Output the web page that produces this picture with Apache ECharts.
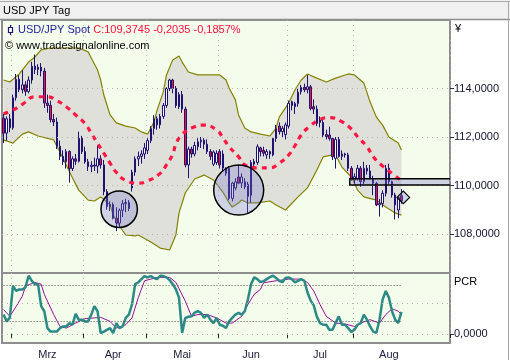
<!DOCTYPE html>
<html><head><meta charset="utf-8">
<script src="https://cdn.jsdelivr.net/npm/echarts@6/dist/echarts.min.js"></script>
<style>html,body{margin:0;padding:0;background:#fff}#c{width:510px;height:360px}</style>
</head><body><div id="c"></div>
<script>
const FONT = "'Liberation Sans', Arial, sans-serif";

// ---------- categories (trading days) ----------
function weekdays(start, count) {
  const out = []; const d = new Date(start + 'T00:00:00Z');
  while (out.length < count) {
    const wd = d.getUTCDay();
    if (wd !== 0 && wd !== 6) out.push(d.toISOString().slice(0, 10));
    d.setUTCDate(d.getUTCDate() + 1);
  }
  return out;
}
const dates = weekdays('2017-02-24', 143);
const monthNames = {'03': 'Mrz', '04': 'Apr', '05': 'Mai', '06': 'Jun', '07': 'Jul', '08': 'Aug'};
const priceTicks = [108, 110, 112, 114];
const pcrTicks = [0];
const pcrLevels = [20, 80];
const pcrGrid = [0, 50];

// ---------- USD/JPY daily candles [open, high, low, close] ----------
const candles = [
[112.78,112.95,111.75,112.16],[112.16,112.85,111.85,112.75],[112.75,112.95,112.20,112.38],[112.38,113.75,112.30,113.62],
[113.62,114.60,113.50,114.38],[114.38,114.55,113.85,113.95],[113.95,114.75,113.80,114.15],[114.15,114.30,113.70,113.88],
[113.88,114.50,113.80,114.35],[114.35,115.10,114.20,114.92],[114.92,115.40,114.60,114.78],[114.78,115.00,114.55,114.88],
[114.88,115.05,114.50,114.72],[114.72,114.85,113.20,113.40],[113.40,113.75,113.00,113.30],[113.30,113.50,112.60,112.72],
[112.72,112.95,112.45,112.62],[112.62,112.80,111.50,111.62],[111.62,111.85,111.05,111.20],[111.20,111.45,110.85,110.98],
[110.98,111.50,110.70,111.40],[111.40,111.45,110.12,110.70],[110.70,111.20,110.60,111.10],[111.10,111.30,110.85,111.00],
[111.00,112.22,110.95,111.95],[111.95,112.05,111.30,111.40],[111.40,111.60,110.90,110.98],[110.98,111.10,110.60,110.78],
[110.78,111.00,110.55,110.84],[110.84,111.15,110.60,110.80],[110.80,111.67,110.50,111.10],[111.10,111.25,110.70,110.85],
[110.85,111.05,109.60,109.75],[109.75,109.85,109.00,109.13],[109.13,109.35,108.95,109.22],[109.22,109.30,108.60,108.65],
[108.65,109.10,108.12,108.45],[108.45,109.05,108.30,108.98],[108.98,109.40,108.70,109.25],[109.25,109.45,108.90,109.30],
[109.30,109.40,108.95,109.05],[109.90,110.65,109.75,110.55],[110.55,111.20,110.40,111.10],[111.10,111.40,110.80,111.20],
[111.20,111.45,110.90,111.30],[111.30,111.75,111.10,111.55],[111.45,111.95,111.30,111.85],[111.85,112.45,111.75,112.35],
[112.35,112.90,112.10,112.75],[112.75,112.85,112.30,112.50],[112.50,112.95,112.35,112.85],[112.85,113.40,112.75,113.30],
[113.30,114.05,113.20,114.00],[114.00,114.40,113.90,114.35],[114.35,114.40,113.80,114.00],[114.00,114.10,113.20,113.30],
[113.25,113.85,113.15,113.75],[113.75,113.90,113.00,113.15],[113.15,113.25,110.75,110.85],[110.85,111.60,110.30,111.50],
[111.50,111.60,111.15,111.30],[111.30,111.80,111.20,111.65],[111.60,111.95,111.45,111.80],[111.80,112.00,111.55,111.87],
[111.87,111.95,111.50,111.70],[111.70,111.90,111.30,111.40],[111.40,111.50,111.05,111.20],[110.88,111.45,110.80,111.38],
[110.95,111.45,110.85,111.33],[111.40,111.50,110.70,110.85],[111.30,111.45,110.60,110.72],[110.50,110.75,110.40,110.70],
[110.70,110.80,109.40,109.47],[109.47,110.15,109.35,110.10],[109.90,110.30,109.80,110.15],[110.35,110.85,110.05,110.10],
[110.10,110.50,109.90,110.35],[110.15,110.30,109.85,109.95],[110.05,110.15,108.85,109.55],[109.60,111.05,109.30,110.95],
[110.88,111.10,110.70,111.00],[110.95,111.70,110.85,111.60],[111.55,111.60,111.20,111.40],[111.45,111.60,111.20,111.33],
[111.26,111.50,111.10,111.40],[111.30,111.45,111.10,111.40],[111.26,112.00,111.20,111.94],[111.94,112.50,111.80,112.36],
[112.45,112.60,112.10,112.22],[112.22,112.45,112.00,112.36],[112.10,112.60,111.90,112.50],[112.45,113.50,112.35,113.39],
[113.45,113.50,113.10,113.30],[113.25,113.45,112.95,113.38],[113.38,114.00,113.25,113.85],[113.87,114.15,113.75,114.05],
[114.05,114.20,113.85,113.95],[113.95,114.55,113.80,114.07],[114.07,114.15,113.10,113.18],[113.25,113.55,112.95,113.15],
[113.15,113.30,112.45,112.56],[112.70,112.85,112.40,112.60],[112.60,112.70,112.00,112.08],[112.10,112.30,111.90,112.02],
[112.08,112.43,111.85,111.94],[111.94,112.00,111.05,111.19],[111.12,112.00,110.70,111.90],[111.90,112.00,111.15,111.20],
[111.20,111.45,111.05,111.30],[111.30,111.35,111.15,111.26],[111.26,111.35,110.60,110.71],[110.71,110.80,110.20,110.29],
[110.23,110.50,110.05,110.36],[110.29,110.85,110.20,110.71],[110.71,110.80,109.95,110.16],[110.16,110.98,110.05,110.71],
[110.71,110.85,110.45,110.60],[110.60,110.85,110.25,110.29],[110.29,110.40,109.60,110.09],[110.09,110.15,109.15,109.20],
[109.20,109.45,108.72,109.26],[109.26,109.80,109.10,109.68],[109.68,110.85,109.55,110.71],[110.71,110.90,110.05,110.16],
[110.16,110.20,109.50,109.61],[109.61,109.70,108.60,109.20],[108.99,109.55,108.65,109.50],[109.58,109.85,109.25,109.37]
];

// ---------- Bollinger bands [barIndex, value] ----------
const upperBand = [[0,114.35],[2,114.27],[5,114.60],[8,115.09],[10,115.30],[12,115.59],[15,115.67],[19,115.67],[24,115.67],
[27,115.51],[28,115.26],[30,114.76],[31,114.35],[32,113.73],[33,113.32],[34,112.91],[36,112.58],[39,112.45],[42,112.37],
[44,112.21],[46,112.12],[48,112.62],[49,113.11],[51,113.86],[52,114.56],[54,115.18],[56,115.34],[57,115.09],[59,114.68],
[62,114.56],[66,114.56],[69,114.56],[71,114.35],[72,114.02],[74,113.53],[75,112.91],[77,112.37],[79,112.21],[82,112.12],
[85,112.04],[87,112.37],[88,112.82],[91,113.40],[93,113.94],[95,114.35],[97,114.60],[100,114.43],[103,114.27],[106,114.43],
[110,114.60],[112,114.56],[115,114.23],[117,113.44],[119,112.82],[121,112.49],[123,112.00],[126,111.75],[127,111.46]];
const lowerBand = [[0,111.88],[3,111.75],[6,112.12],[8,112.21],[11,112.04],[16,111.88],[18,111.38],[20,110.85],[22,110.31],
[24,109.81],[27,109.40],[29,109.36],[31,109.53],[34,109.20],[35,108.78],[37,108.33],[39,107.96],[42,107.92],[43,107.96],
[47,107.67],[50,107.42],[53,107.34],[55,107.96],[56,108.87],[58,109.69],[61,110.27],[64,110.43],[67,110.23],[70,109.73],
[72,109.28],[73,109.11],[75,109.28],[76,109.40],[78,109.28],[81,109.28],[85,109.36],[87,109.20],[90,108.99],[94,109.53],
[97,109.90],[100,110.64],[102,111.18],[105,111.26],[106,111.26],[108,110.76],[111,110.35],[113,109.81],[115,109.53],
[119,109.40],[122,109.11],[125,108.87],[127,108.78]];
// ---------- red cycle line [barIndex, value] ----------
const cycleLine = [[0,112.96],[3,113.11],[6,113.35],[10,113.66],[14,113.66],[17,113.50],[20,113.25],[23,112.91],[26,112.55],
[28,112.15],[30,111.74],[32,111.33],[34,110.92],[36,110.54],[39,110.21],[43,110.10],[46,110.19],[50,110.50],[52,110.85],
[54,111.29],[55,111.70],[57,112.11],[61,112.42],[64,112.49],[68,112.29],[70,111.97],[72,111.60],[75,111.19],[77,110.85],
[81,110.73],[85,110.73],[88,110.92],[91,111.26],[93,111.64],[95,112.08],[98,112.47],[101,112.72],[104,112.80],[108,112.63],
[111,112.33],[113,112.01],[116,111.60],[118,111.19],[121,110.80],[124,110.50],[127,110.20]];

// ---------- PCR indicator ----------
const pcr = [31.7,20.5,26.7,78.8,70.5,73,73,76.7,95.5,87.2,81.7,81.7,45.5,37.2,9.5,3.8,3.8,3.8,9.5,12.2,
12.2,17.8,15,32.8,23.3,23.3,20.5,20.5,31.7,45.5,37.2,1.2,3.8,6.7,9.5,1.2,17.8,9.5,12.2,26.2,
31.7,48.3,81.7,84.5,90,95,92.8,95,91.7,90,95.5,95,92.8,88.3,81.7,73.3,59.5,1.5,26,28.3,
28.8,35,37.2,34.5,26.2,31.7,23.3,17.8,26.2,15,13.3,9.5,20.5,26.2,31.7,34.5,31.7,37.2,56.7,81.7,
92.8,90,85,86.7,90,93.3,95.5,91.7,87.2,85,91.7,92.8,90,84.5,87.2,90,87.2,68.3,55,46.7,
28.3,17.8,15,15,6.7,6.7,17.8,28.8,15,15,9.5,3.3,6.7,15,17.8,31.7,23.3,12.2,3.8,1.7,
23.3,56.7,70.5,59.5,37.2,23.3,17.8,36];
const pcrAvg = [[0,40],[2,28.8],[4,45],[6,62],[7,78.8],[10,84.5],[12,81.7],[13,65],[16,31.7],[18,12.2],[20,9.5],[23,17.8],
[26,25],[29,26.2],[31,27.2],[34,20.5],[36,9.5],[39,15],[41,26.2],[43,59.5],[45,87.2],[49,92.8],[53,92.8],[55,84.5],[58,53.8],
[60,28.8],[62,31.7],[65,31.7],[68,26.2],[71,17.8],[73,17.8],[76,28.8],[78,48.3],[80,65],[82,73],[83,84],[87,87.2],[91,90],
[95,90],[97,84.5],[99,70.5],[101,48.3],[103,28.8],[106,17.8],[109,16.2],[112,12.2],[114,17.8],[117,23.3],[120,17.8],
[122,31.7],[124,41.2],[126,37.2],[127,31.7]];

// ---------- annotations (data coordinates) ----------
const circleMarks = [[36.9, 109.02], [75.05, 109.81]];
const zoneMark = {start: 110.5, low: 110.02, high: 110.28};
const lastMark = [127.6, 109.51];
const circleRadiusPx = [18.2, 25];

// ---------- helpers ----------
const groups = {};
dates.forEach((d, i) => { const m = d.slice(5, 7); (groups[m] = groups[m] || []).push(i); });
const monthStart = new Set(); const monthMid = new Map();
Object.keys(monthNames).forEach(m => {
  const g = groups[m]; if (!g) return;
  monthStart.add(g[0]);
  monthMid.set(Math.floor((g[0] + g[g.length - 1]) / 2), monthNames[m]);
});
const isMonthStart = (i) => monthStart.has(i);
const isMonthMid = (i) => monthMid.has(i);
function coordFrac(api, i, v) {
  const b = Math.floor(i); const p = api.coord([b, v]); const bw = api.size([1, 0])[0];
  return [p[0] + (i - b) * bw, p[1]];
}
const fmt4 = v => v.toFixed(4).replace('.', ',');
const MARK_FILL = 'rgba(118,118,205,0.30)';
const GRIDDOT = {type: [1, 4], color: '#b4b4b4', width: 1};

const chart = echarts.init(document.getElementById('c'), null, {renderer: 'canvas'});
chart.setOption({
  animation: false,
  backgroundColor: '#ffffff',
  textStyle: {fontFamily: FONT},
  grid: [
    {left: 2, right: 60, top: 20, height: 253, show: true, backgroundColor: '#f4fcec', borderColor: '#8e8e8e', borderWidth: 2},
    {left: 2, right: 60, top: 273, height: 70, show: true, backgroundColor: '#f4fcec', borderColor: '#8e8e8e', borderWidth: 2}
  ],
  xAxis: [
    {type: 'category', gridIndex: 0, data: dates, boundaryGap: true, axisLine: {show: false}, axisTick: {show: false},
     axisLabel: {show: false}, splitLine: {show: true, interval: isMonthStart, lineStyle: GRIDDOT}},
    {type: 'category', gridIndex: 1, data: dates, boundaryGap: true, axisLine: {show: false},
     axisTick: {show: true, interval: isMonthStart, length: 4, lineStyle: {color: '#202020'}},
     axisLabel: {interval: isMonthMid, formatter: (v, i) => monthMid.get(i) || '', color: '#1c1c3c', fontSize: 11, margin: 6, fontFamily: FONT},
     splitLine: {show: true, interval: isMonthStart, lineStyle: GRIDDOT}}
  ],
  yAxis: [
    {type: 'value', gridIndex: 0, position: 'right', min: 106.392, max: 116.825, scale: true,
     axisLine: {show: false}, axisTick: {show: true, customValues: priceTicks, length: 4, lineStyle: {color: '#303050'}},
     axisLabel: {customValues: priceTicks, formatter: fmt4, color: '#141432', fontSize: 11, margin: 4, fontFamily: FONT},
     splitLine: {show: false}},
    {type: 'value', gridIndex: 1, position: 'right', min: -15, max: 100,
     axisLine: {show: false}, axisTick: {show: true, customValues: pcrTicks, length: 4, lineStyle: {color: '#303050'}},
     axisLabel: {customValues: pcrTicks, formatter: fmt4, color: '#141432', fontSize: 11, margin: 4, fontFamily: FONT},
     splitLine: {show: false}}
  ],
  series: [
    {type: 'custom', xAxisIndex: 0, yAxisIndex: 0, silent: true, z: 1, clip: true, data: [[0, 110]],
     renderItem: (params, api) => {
       const pts = upperBand.map(p => api.coord(p));
       for (let k = lowerBand.length - 1; k >= 0; k--) pts.push(api.coord(lowerBand[k]));
       return {type: 'polygon', shape: {points: pts}, style: {fill: '#dfe0da'}};
     }},
    {type: 'line', xAxisIndex: 0, yAxisIndex: 0, data: upperBand, symbol: 'none', silent: true, z: 2,
     lineStyle: {color: '#858200', width: 1.2}},
    {type: 'line', xAxisIndex: 0, yAxisIndex: 0, data: lowerBand, symbol: 'none', silent: true, z: 2,
     lineStyle: {color: '#858200', width: 1.2}},
    {type: 'candlestick', xAxisIndex: 0, yAxisIndex: 0, z: 3, barWidth: 2,
     data: candles.map(([o, h, l, c]) => [o, c, l, h]),
     itemStyle: {color: '#fafafa', color0: '#ff1035', borderColor: '#1e1272', borderColor0: '#1e1272', borderWidth: 1},
     markLine: {silent: true, symbol: ['none', 'none'], label: {show: false}, animation: false,
       lineStyle: GRIDDOT, data: priceTicks.map(v => ({yAxis: v}))}},
    {type: 'line', xAxisIndex: 0, yAxisIndex: 0, data: cycleLine, symbol: 'none', silent: true, smooth: true, z: 4,
     lineStyle: {color: '#ff1744', width: 3.2, type: [5, 5]}},
    {type: 'custom', xAxisIndex: 0, yAxisIndex: 0, silent: true, z: 5, clip: true, data: [[0, 110]],
     renderItem: (params, api) => {
       const p1 = coordFrac(api, zoneMark.start, zoneMark.high);
       const p2 = api.coord([0, zoneMark.low]);
       const right = params.coordSys.x + params.coordSys.width;
       return {type: 'rect', shape: {x: p1[0], y: p1[1], width: right - p1[0] + 4, height: p2[1] - p1[1]},
         style: {fill: MARK_FILL, stroke: '#000', lineWidth: 1.5}};
     }},
    {type: 'custom', xAxisIndex: 0, yAxisIndex: 0, silent: true, z: 6, data: circleMarks.map(() => [0, 110]),
     renderItem: (params, api) => {
       const m = circleMarks[params.dataIndex]; const p = coordFrac(api, m[0], m[1]);
       return {type: 'circle', shape: {cx: p[0], cy: p[1], r: circleRadiusPx[params.dataIndex]},
         style: {fill: MARK_FILL, stroke: '#000', lineWidth: 1.5}};
     }},
    {type: 'custom', xAxisIndex: 0, yAxisIndex: 0, silent: true, z: 6, data: [[0, 110]],
     renderItem: (params, api) => {
       const p = coordFrac(api, lastMark[0], lastMark[1]); const h = 6.3;
       return {type: 'polygon', shape: {points: [[p[0] - h, p[1]], [p[0], p[1] - h], [p[0] + h, p[1]], [p[0], p[1] + h]]},
         style: {fill: MARK_FILL, stroke: '#000', lineWidth: 1.2}};
     }},
    {type: 'line', xAxisIndex: 1, yAxisIndex: 1, data: pcrAvg, symbol: 'none', silent: true, z: 3,
     lineStyle: {color: '#9b0f9b', width: 1},
     markLine: {silent: true, symbol: ['none', 'none'], label: {show: false}, animation: false,
       lineStyle: GRIDDOT, data: pcrGrid.map(v => ({yAxis: v}))}},
    {type: 'line', xAxisIndex: 1, yAxisIndex: 1, data: pcr, symbol: 'none', silent: true, z: 4,
     lineStyle: {color: '#2b8a85', width: 2.5},
     markLine: {silent: true, symbol: ['none', 'none'], label: {show: false}, animation: false,
       lineStyle: {type: [1, 2], color: '#555555', width: 1},
       data: pcrLevels.map(v => [{coord: [0, v]}, {coord: [pcr.length - 1, v]}])}}
  ],
  graphic: [
    {type: 'rect', shape: {x: 0, y: 0, width: 510, height: 19}, style: {fill: '#f0f0f0'}, z: 10},
    {type: 'line', shape: {x1: 0, y1: 1.5, x2: 510, y2: 1.5}, style: {stroke: '#a8a8a8', lineWidth: 1}, z: 11},
    {type: 'line', shape: {x1: 0, y1: 19.5, x2: 510, y2: 19.5}, style: {stroke: '#8e8e8e', lineWidth: 1.5}, z: 11},
    {type: 'line', shape: {x1: 508.5, y1: 1, x2: 508.5, y2: 360}, style: {stroke: '#a8a8a8', lineWidth: 1}, z: 11},
    {type: 'text', x: 3, y: 11, z: 12, style: {text: 'USD JPY Tag', font: '11px ' + FONT, fill: '#000', verticalAlign: 'middle'}},
    {type: 'line', shape: {x1: 10.5, y1: 25, x2: 10.5, y2: 35}, style: {stroke: '#1e1272', lineWidth: 1.2}, z: 12},
    {type: 'rect', shape: {x: 8.5, y: 27.5, width: 4, height: 5}, style: {fill: '#ffffff', stroke: '#1e1272', lineWidth: 1.2}, z: 12},
    {type: 'text', x: 18, y: 30, z: 12, style: {text: '{a|USD/JPY Spot} {b|C:109,3745 -0,2035 -0,1857%}', font: '11px ' + FONT,
      verticalAlign: 'middle', rich: {a: {fill: '#1e1ea0', font: '11px ' + FONT}, b: {fill: '#ff1040', font: '11px ' + FONT}}}},
    {type: 'text', x: 5, y: 45.5, z: 12, style: {text: '\u00a9 www.tradesignalonline.com', font: '11px ' + FONT, fill: '#000', verticalAlign: 'middle'}},
    {type: 'text', x: 455, y: 29, z: 12, style: {text: '\u00a5', font: '11px ' + FONT, fill: '#000', verticalAlign: 'middle'}},
    {type: 'text', x: 454, y: 282, z: 12, style: {text: 'PCR', font: '11px ' + FONT, fill: '#000', verticalAlign: 'middle'}}
  ]
});
</script></body></html>
